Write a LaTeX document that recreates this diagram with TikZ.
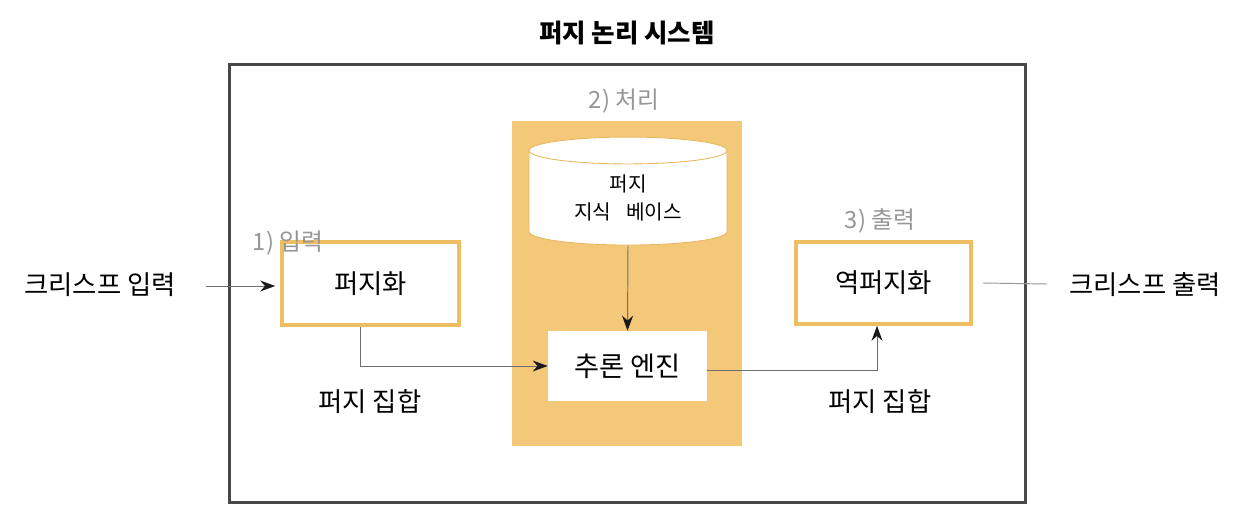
\documentclass[tikz,border=0pt]{standalone}
\usepackage{fontspec}
\setmainfont{Noto Sans CJK KR}
\usetikzlibrary{arrows.meta,positioning,calc,shapes.geometric}
\definecolor{amber}{RGB}{243,200,121}
\definecolor{amberline}{RGB}{238,190,98}
\definecolor{cylline}{RGB}{232,184,96}
\definecolor{labelgray}{RGB}{150,150,150}
\definecolor{framegray}{RGB}{72,72,72}
\definecolor{wiregray}{RGB}{110,110,110}

\begin{document}
\begin{tikzpicture}[x=0.02cm,y=-0.02cm,>={Stealth[length=3mm,width=2.2mm,color=black!90]},
  stagebox/.style={draw=amberline,line width=2.1pt,fill=white,inner sep=0pt},
  steplabel/.style={text=labelgray,font=\fontsize{13.5pt}{16pt}\selectfont},
  plain/.style={font=\fontsize{15pt}{18pt}\selectfont},
  wire/.style={draw=wiregray,line width=0.55pt}]
  \useasboundingbox (0,0) rectangle (1254,520);
  \node[font=\bfseries\fontsize{14.5pt}{17pt}\selectfont] (title) at (627,33) {퍼지 논리 시스템};
  \node[draw=framegray,line width=1.7pt,minimum width=15.94cm,minimum height=8.78cm] (system) at (627.5,283.5) {};
  \node[fill=amber,minimum width=4.6cm,minimum height=6.5cm,inner sep=0pt] (proc) at (627,283.5) {};
  \node[steplabel] (proclabel) at (624,101) {2) 처리};
  \node[cylinder,shape border rotate=90,aspect=0.25,draw=cylline,line width=0.5pt,fill=white,
    minimum width=3.96cm,minimum height=2.16cm,align=center,inner sep=0pt,
    font=\fontsize{11.5pt}{16pt}\selectfont] (kb) at (628,198) {퍼지\\지식\hspace{0.5em} 베이스};
  \node[fill=white,minimum width=3.18cm,minimum height=1.4cm,inner sep=0pt,
    font=\fontsize{15.5pt}{18pt}\selectfont] (engine) at (627.5,366) {추론 엔진};
  \node[stagebox,minimum width=3.54cm,minimum height=1.66cm,plain] (fuzz) at (370.5,283.5) {퍼지화};
  \node[stagebox,minimum width=3.5cm,minimum height=1.64cm,plain] (defuzz) at (883.5,283) {역퍼지화};
  \node[steplabel] (inlabel) at (288,243) {1) 입력};
  \node[steplabel] (outlabel) at (880,221) {3) 출력};
  \node[plain] (crispin) at (100,285) {크리스프 입력};
  \node[plain] (crispout) at (1145,285) {크리스프 출력};
  \node[plain] (fsetin) at (370,402) {퍼지 집합};
  \node[plain] (fsetout) at (880,402) {퍼지 집합};
  \coordinate (instart) at (206,286);
  \coordinate (outend) at (1047,284);
  \draw[wire,->] (instart) -- ([xshift=-0.1cm]fuzz.west |- instart);
  \draw[wire,->] ([xshift=-0.2cm]fuzz.south) |- (engine.west);
  \draw[wire,->] (kb.south) -- (engine.north);
  \draw[wire,->] ([yshift=-0.08cm]engine.east) -| ([xshift=-0.13cm]defuzz.south);
  \draw[wire,draw=labelgray] ([xshift=0.2cm]defuzz.east) -- (outend);
\end{tikzpicture}
\end{document}
